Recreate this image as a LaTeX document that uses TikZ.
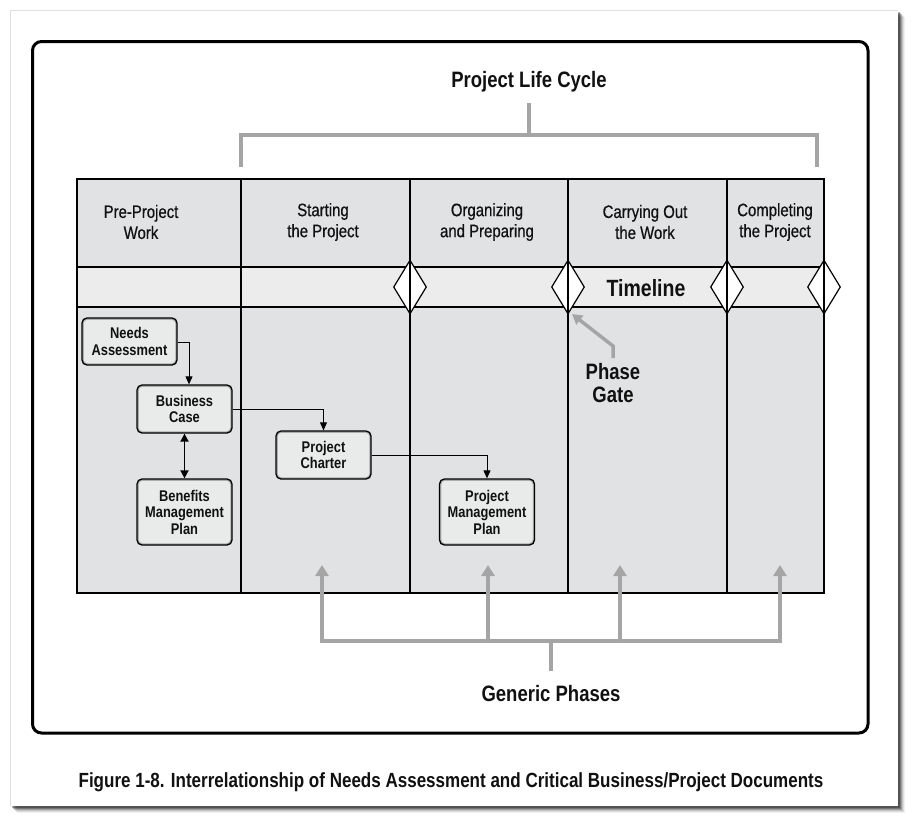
\documentclass[tikz,border=0pt]{standalone}
\usepackage{fontspec}
\setmainfont[FakeStretch=0.83]{Liberation Sans}
\newfontfamily\headfont[FakeStretch=0.83,FakeBold=0.6]{Liberation Sans}
\usetikzlibrary{arrows.meta,shapes.geometric}
\definecolor{cellfill}{HTML}{E1E2E4}
\definecolor{bandfill}{HTML}{EBECEB}
\definecolor{boxfill}{HTML}{E9EAEA}
\definecolor{brk}{HTML}{A5A5A5}
\definecolor{inkc}{HTML}{111111}
\begin{document}
\begin{tikzpicture}[x=1pt,y=-1pt,
  doc/.style={draw=black,line width=1.3pt,fill=boxfill,rounded corners=5pt,
    minimum width=95pt,align=center,inner sep=2pt,text=inkc,
    font=\fontsize{15.5}{16.5}\selectfont\bfseries,
    path picture={\draw[gray!65,line width=3.5pt,rounded corners=5pt]
      (path picture bounding box.south west) rectangle (path picture bounding box.north east);}},
  head/.style={align=center,text=inkc,font=\headfont\fontsize{18}{21}\selectfont},
  big/.style={align=center,text=inkc,font=\fontsize{22.3}{23}\selectfont\bfseries},
  gate/.style={diamond,draw=black,fill=white,line width=1.2pt,inner sep=0pt,
    minimum width=33pt,minimum height=54pt},
  flow/.style={draw=black,line width=0.9pt,-{Triangle[length=8pt,width=7pt]}},
  both/.style={draw=black,line width=1.8pt,{Triangle[length=8pt,width=8pt]}-{Triangle[length=8pt,width=8pt]}},
  gline/.style={draw=brk,line width=4pt},
  garrow/.style={draw=brk,line width=4pt,-{Triangle[length=11pt,width=13pt]}},
  pgarrow/.style={draw=brk,line width=3.5pt,-{Triangle[length=10pt,width=11pt]}},
  grid/.style={draw=black,line width=1.5pt}
]
\useasboundingbox (0,0) rectangle (914,823);
% page with shadow
\foreach \i/\o in {7/0.06,6/0.08,5/0.12,4/0.18,3/0.25,2/0.3}
  \fill[black,opacity=\o] (10+\i,10+\i) rectangle (898+\i,806+\i);
\fill[white] (10,10) rectangle (898,806);
\draw[gray!25,line width=0.8pt] (10,806) -- (10,10) -- (898,10);
% frame
\draw[line width=3pt,rounded corners=9pt] (32.5,41.5) rectangle (868,733);
% cells
\fill[cellfill] (77,179) rectangle (824,593);
\fill[bandfill] (77,267) rectangle (824,307);
\draw[grid] (77,267) -- (824,267);
\draw[grid] (77,307) -- (824,307);
% gates
\node[gate] (g1) at (410,287) {};
\node[gate] (g2) at (568,287) {};
\node[gate] (g3) at (727,287) {};
\node[gate] (g4) at (824,287) {};
% column lines
\foreach \x in {241,410,568,727}
  \draw[grid] (\x,179) -- (\x,593);
\draw[line width=2pt] (77,179) rectangle (824,593);
% headers
\node[head] (h1) at (141,222) {Pre-Project\\Work};
\node[head] (h2) at (323,222) {Starting\\the Project};
\node[head] (h3) at (487,222) {Organizing\\and Preparing};
\node[head] (h4) at (645,222) {Carrying Out\\the Work};
\node[head] (h5) at (775,222) {Completing\\the Project};
\node[big,font=\fontsize{23.5}{25}\selectfont\bfseries] (tl) at (646,288) {Timeline};
% documents
\node[doc,minimum height=47pt] (na) at (129.5,341.5) {Needs\\Assessment};
\node[doc,minimum height=48pt] (bc) at (184.5,409) {Business\\Case};
\node[doc,minimum height=66pt] (bm) at (184.5,512) {Benefits\\Management\\Plan};
\node[doc,minimum height=48pt] (pc) at (323.5,455) {Project\\Charter};
\node[doc,minimum height=66pt] (pm) at (487,512) {Project\\Management\\Plan};
\draw[flow] (na.east |- 0,342) -| (bc.north -| 189,0);
\draw[flow] (bc.east) -| (pc.north);
\draw[flow] (pc.east) -| (pm.north);
\draw[both] (bc.south) -- (bm.north);
% project life cycle bracket
\node[big] (plc) at (529,82) {Project Life Cycle};
\coordinate (tL) at (241,167);
\coordinate (tR) at (817,167);
\coordinate (tM) at (529,135);
\draw[gline] (tL) -- (241,135) -- (817,135) -- (tR);
\draw[gline] (tM) -- (529,103);
% phase gate
\node[big] (pg) at (613,383) {Phase\\Gate};
\coordinate (pgtip) at (572,314);
\draw[pgarrow] (613,358) -- (613,346) -- (pgtip);
% generic phases
\node[big] (gp) at (551,694) {Generic Phases};
\coordinate (a1) at (322,565);
\coordinate (a2) at (488,565);
\coordinate (a3) at (620,565);
\coordinate (a4) at (780,565);
\draw[gline] (322,641) -- (780,641);
\draw[gline] (551,641) -- (551,671);
\foreach \c/\x in {a1/322,a2/488,a3/620,a4/780}
  \draw[garrow] (\x,643) -- (\c);
% caption
\node[text=inkc,font=\fontsize{20.5}{22}\selectfont\bfseries] (cap) at (451,782)
  {Figure 1-8. Interrelationship of Needs Assessment and Critical Business/Project Documents};
\end{tikzpicture}
\end{document}
